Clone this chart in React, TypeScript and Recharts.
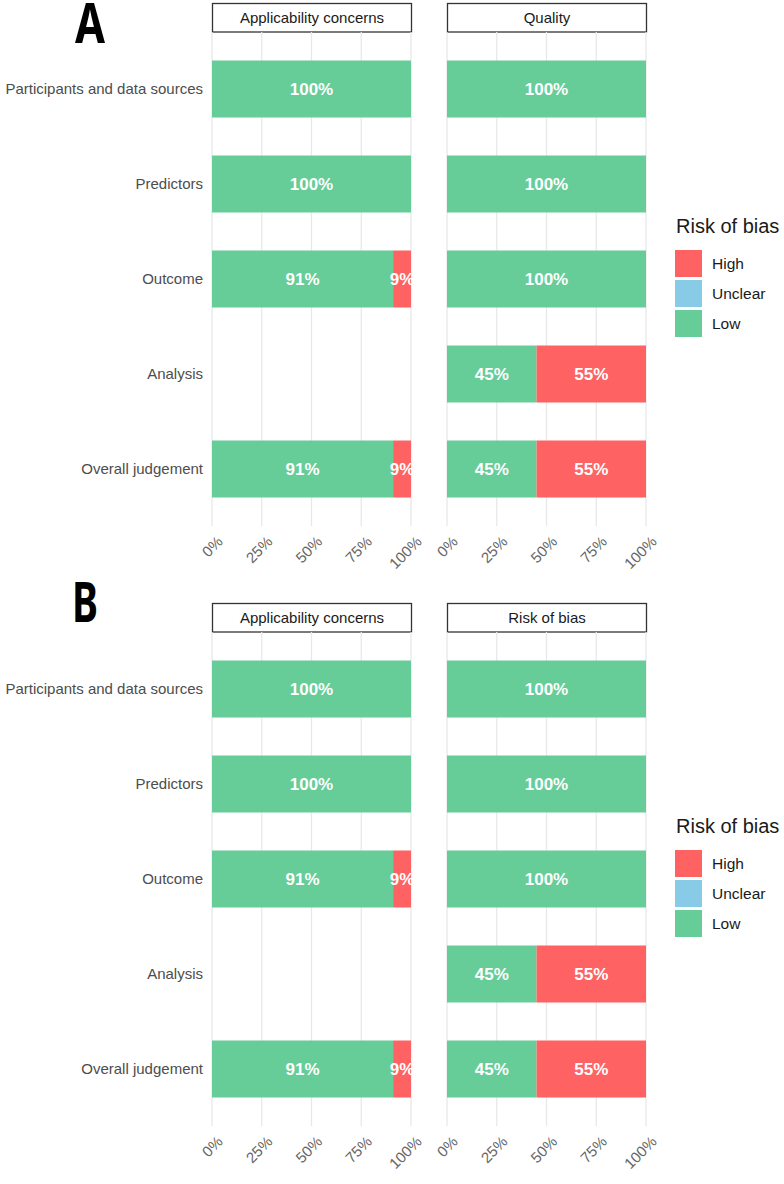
import React from 'react';
import { BarChart, Bar, XAxis, YAxis, CartesianGrid, LabelList } from 'recharts';

// PROBAST domains, top to bottom
const domains = ['Participants and data sources', 'Predictors', 'Outcome', 'Analysis', 'Overall judgement'];

// Applicability concerns (no rating for Analysis)
const applicabilityLow = [100, 100, 91, null, 91];
const applicabilityUnclear = [0, 0, 0, null, 0];
const applicabilityHigh = [0, 0, 9, null, 9];

// Quality / risk of bias
const biasLow = [100, 100, 100, 45, 45];
const biasUnclear = [0, 0, 0, 0, 0];
const biasHigh = [0, 0, 0, 55, 55];

const xTicks = [0, 25, 50, 75, 100];
const legendItems = ['High', 'Unclear', 'Low'];

const panelA = { letter: 'A', facets: ['Applicability concerns', 'Quality'] };
const panelB = { letter: 'B', facets: ['Applicability concerns', 'Risk of bias'] };

const COLORS: Record<string, string> = { Low: '#66cc98', Unclear: '#88cbe6', High: '#fe6262' };
const FONT = '"Liberation Sans", Arial, Helvetica, sans-serif';

type Row = { domain: string; Low: number | null; Unclear: number | null; High: number | null };

const buildRows = (low: (number | null)[], unclear: (number | null)[], high: (number | null)[]): Row[] =>
  domains.map((d, i) => ({ domain: d, Low: low[i], Unclear: unclear[i], High: high[i] }));

const applicabilityRows = buildRows(applicabilityLow, applicabilityUnclear, applicabilityHigh);
const biasRows = buildRows(biasLow, biasUnclear, biasHigh);

const pct = (v: any) => (v ? `${v}%` : '');

const XTick = (props: any) => {
  const { x, y, payload } = props;
  return (
    <g transform={`translate(${x + 4},${y + 1}) rotate(-45)`}>
      <text x={0} y={0} dy="0.72em" textAnchor="end" fontSize={15} fill="#666" fontFamily={FONT}>
        {payload.value}%
      </text>
    </g>
  );
};

const PLOT_H = 494;
const AXIS_H = 70;

const Facet = ({ rows, showY, left, top }: { rows: Row[]; showY: boolean; left: number; top: number }) => {
  const width = showY ? 435 : 252;
  const margin = showY ? { top: 0, right: 24, bottom: 0, left: 0 } : { top: 0, right: 26, bottom: 0, left: 27 };
  return (
    <div style={{ position: 'absolute', left, top }}>
      <BarChart
        width={width}
        height={PLOT_H + AXIS_H}
        data={rows}
        layout="vertical"
        margin={margin}
        barCategoryGap="20%"
      >
        <CartesianGrid vertical horizontal={false} stroke="#e8e8e8" strokeWidth={1.3} />
        <XAxis
          type="number"
          domain={[0, 100]}
          ticks={xTicks}
          axisLine={false}
          tickLine={false}
          height={AXIS_H}
          tick={<XTick />}
          interval={0}
        />
        <YAxis
          type="category"
          dataKey="domain"
          hide={!showY}
          width={showY ? 212 : 0}
          axisLine={false}
          tickLine={false}
          tickSize={6}
          tickMargin={3}
          padding={{ top: 9.5, bottom: 9.5 }}
          tick={{ fontSize: 15, fill: '#4d4d4d', fontFamily: FONT }}
          interval={0}
        />
        {['Low', 'Unclear', 'High'].map((k) => (
          <Bar key={k} dataKey={k} stackId="s" fill={COLORS[k]} isAnimationActive={false}>
            <LabelList
              dataKey={k}
              position="center"
              formatter={pct}
              fill="#fff"
              fontSize={17}
              fontWeight="bold"
              fontFamily={FONT}
            />
          </Bar>
        ))}
      </BarChart>
    </div>
  );
};

// strips, legend and panel letter, drawn in page coordinates
const Decor = ({ panel, y0 }: { panel: { letter: string; facets: string[] }; y0: number }) => {
  const stripX = [212, 447];
  const isA = panel.letter === 'A';
  return (
    <g transform={`translate(0,${y0})`}>
      <text
        x={isA ? 75 : 72}
        y={isA ? 43 : 22}
        fontSize={55}
        fontWeight={700}
        fontFamily='"Noto Sans", "Liberation Sans", sans-serif'
        textLength={isA ? 30 : 26}
        lengthAdjust="spacingAndGlyphs"
        fill="#000"
      >
        {panel.letter}
      </text>
      {panel.facets.map((f, i) => (
        <g key={f}>
          <rect x={stripX[i] + 0.5} y={3.5} width={199} height={28.5} fill="#fff" stroke="#333" strokeWidth={1.3} />
          <text x={stripX[i] + 100} y={23} textAnchor="middle" fontSize={15} fill="#1a1a1a" fontFamily={FONT}>
            {f}
          </text>
        </g>
      ))}
      <text x={676} y={233} fontSize={20} fill="#1a1a1a" fontFamily={FONT}>
        Risk of bias
      </text>
      {legendItems.map((k, i) => (
        <g key={k}>
          <rect x={675} y={250 + i * 30} width={27} height={27} fill={COLORS[k]} />
          <text x={712} y={269 + i * 30} fontSize={15.5} fill="#1a1a1a" fontFamily={FONT}>
            {k}
          </text>
        </g>
      ))}
    </g>
  );
};

export default function App() {
  return (
    <div style={{ position: 'absolute', left: 0, top: 0, width: 784, height: 1184, background: '#fff', overflow: 'hidden' }}>
      <svg width={784} height={1184} style={{ position: 'absolute', left: 0, top: 0 }}>
        <Decor panel={panelA} y0={0} />
        <Decor panel={panelB} y0={600} />
      </svg>
      <Facet rows={applicabilityRows} showY left={0} top={32} />
      <Facet rows={biasRows} showY={false} left={420} top={32} />
      <Facet rows={applicabilityRows} showY left={0} top={632} />
      <Facet rows={biasRows} showY={false} left={420} top={632} />
    </div>
  );
}
